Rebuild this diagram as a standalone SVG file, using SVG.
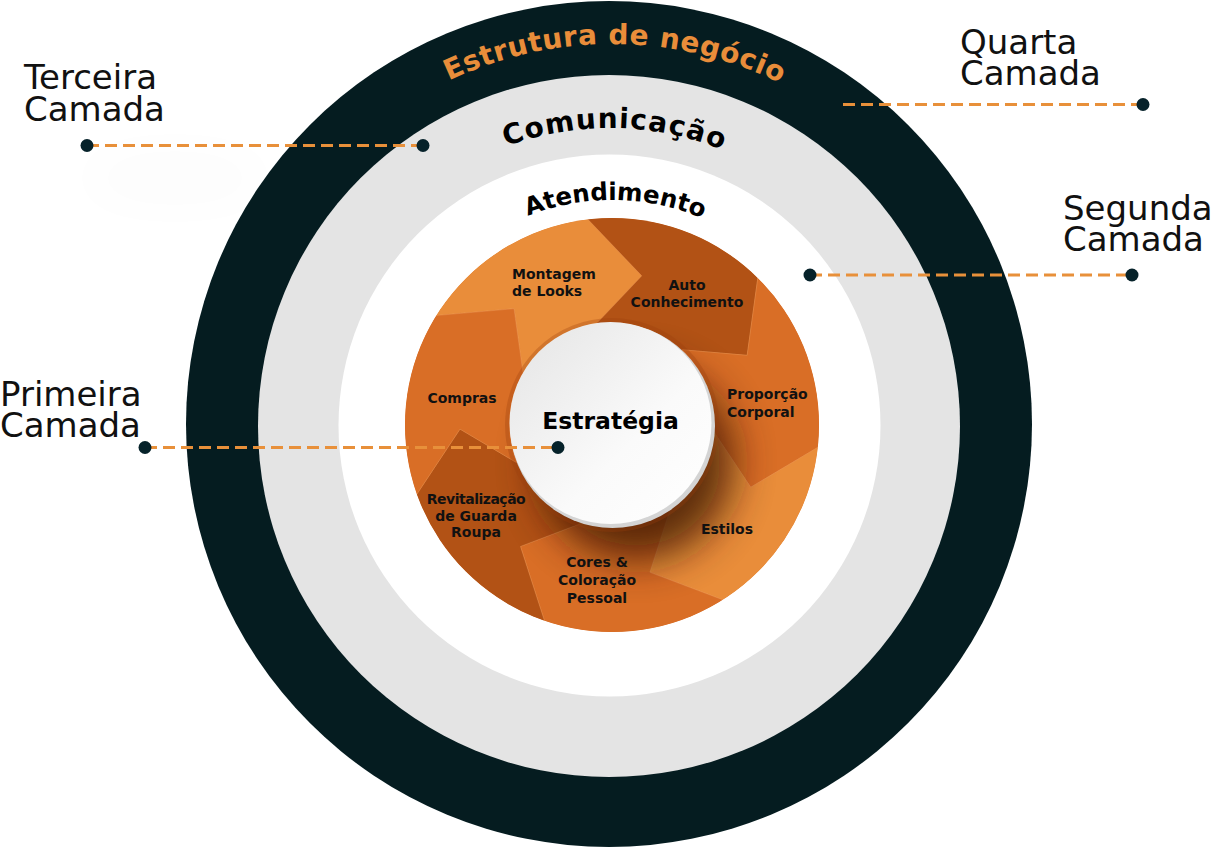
<svg xmlns="http://www.w3.org/2000/svg" width="1216" height="851" viewBox="0 0 1216 851">
<defs>
<style>
.lbl{font-family:"DejaVu Sans",sans-serif;font-size:34px;fill:#111;}
.seg{font-family:"DejaVu Sans",sans-serif;font-weight:bold;font-size:14px;fill:#111;}
.arc{font-family:"DejaVu Sans",sans-serif;font-weight:bold;}
.dash{stroke:#E8903A;stroke-width:3;stroke-dasharray:12 6;fill:none;}
.dot{fill:#06222a;}
.segfill{stroke:#f3a468;stroke-opacity:0.35;stroke-width:0.8;}
</style>
<clipPath id="ringClip"><circle cx="612" cy="425" r="207"/></clipPath>
<filter id="sh" x="-60%" y="-60%" width="220%" height="220%"><feGaussianBlur stdDeviation="20"/></filter>
<filter id="soft" x="-60%" y="-60%" width="220%" height="220%"><feGaussianBlur stdDeviation="25"/></filter>
<linearGradient id="face" x1="0" y1="0" x2="1" y2="1"><stop offset="0" stop-color="#e4e4e4"/><stop offset="0.6" stop-color="#fafafa"/><stop offset="1" stop-color="#ffffff"/></linearGradient>
<path id="segShape" d="M0 0 L-89 -51.8 L-98 -116.3 L-214.7 -106 L-160.7 -253.3 L-51 -234 L29.8 -149.1 L-15 -101.9 Z"/>
<path id="arc4" d="M282.05 234.5 A381 381 0 0 1 941.95 234.5"/>
<path id="arc3" d="M350.19 278 A300 300 0 0 1 869.81 278"/>
<path id="arc2" d="M412.81 315 A230 230 0 0 1 811.19 315"/>
</defs>

<ellipse cx="175" cy="178" rx="95" ry="28" fill="#000" opacity="0.012" filter="url(#soft)"/>

<g id="layer4">
<circle cx="609" cy="424" r="423" fill="#051c20"/>
<text class="arc" font-size="28" fill="#E98D3A" letter-spacing="0.6"><textPath href="#arc4" startOffset="402" text-anchor="middle">Estrutura de negócio</textPath></text>
</g>
<g id="layer3">
<circle cx="609" cy="426" r="351" fill="#e4e4e4"/>
<text class="arc" font-size="28" fill="#000" letter-spacing="1.2"><textPath href="#arc3" startOffset="319" text-anchor="middle">Comunicação</textPath></text>
</g>
<g id="layer2">
<circle cx="609.5" cy="425.5" r="271" fill="#ffffff"/>
<text class="arc" font-size="24.5" fill="#000"><textPath href="#arc2" startOffset="244" text-anchor="middle">Atendimento</textPath></text>
</g>

<g id="layer1" clip-path="url(#ringClip)">
<circle cx="612" cy="425" r="207" fill="#D96E26"/>
<g transform="translate(612 425)">
<use href="#segShape" class="segfill" fill="#E98D3A" transform="rotate(0)"/>
<use href="#segShape" class="segfill" fill="#B25215" transform="rotate(51.4286)"/>
<use href="#segShape" class="segfill" fill="#D96E26" transform="rotate(102.857)"/>
<use href="#segShape" class="segfill" fill="#E98D3A" transform="rotate(154.286)"/>
<use href="#segShape" class="segfill" fill="#D96E26" transform="rotate(205.714)"/>
<use href="#segShape" class="segfill" fill="#B25215" transform="rotate(257.143)"/>
<use href="#segShape" class="segfill" fill="#D96E26" transform="rotate(308.571)"/>
</g>
<circle cx="636" cy="462" r="98" fill="#3a1804" opacity="0.8" filter="url(#sh)"/>
<circle cx="612" cy="425" r="105" fill="none" stroke="#9c400c" stroke-opacity="0.3" stroke-width="4"/>
</g>

<g id="seg-montagem"><text class="seg" x="512" y="278.5">Montagem<tspan x="512" dy="17.5">de Looks</tspan></text></g>
<g id="seg-auto"><text class="seg" x="687" y="290" text-anchor="middle">Auto<tspan x="687" dy="17">Conhecimento</tspan></text></g>
<g id="seg-proporcao"><text class="seg" x="727" y="398.5">Proporção<tspan x="727" dy="18.5">Corporal</tspan></text></g>
<g id="seg-estilos"><text class="seg" x="727" y="534" text-anchor="middle">Estilos</text></g>
<g id="seg-cores"><text class="seg" x="597" y="567" text-anchor="middle">Cores &amp;<tspan x="597" dy="18">Coloração</tspan><tspan x="597" dy="18">Pessoal</tspan></text></g>
<g id="seg-revitalizacao"><text class="seg" x="476" y="504" text-anchor="middle" font-size="13"><tspan letter-spacing="-0.5">Revitalização</tspan><tspan x="476" dy="16.5">de Guarda</tspan><tspan x="476" dy="16.5">Roupa</tspan></text></g>
<g id="seg-compras"><text class="seg" x="462" y="402.5" text-anchor="middle">Compras</text></g>

<g id="center">
<circle cx="612.5" cy="425.5" r="102.5" fill="#d4d4d4"/>
<circle cx="610.5" cy="423" r="101" fill="url(#face)"/>
<text x="610.5" y="429" text-anchor="middle" font-family="DejaVu Sans, sans-serif" font-weight="bold" font-size="23.5" fill="#000">Estratégia</text>
</g>

<g id="labels">
<text class="lbl" x="24" y="89">Terceira<tspan x="24" dy="32">Camada</tspan></text>
<text class="lbl" x="960" y="54">Quarta<tspan x="960" dy="31">Camada</tspan></text>
<text class="lbl" x="1063" y="220">Segunda<tspan x="1063" dy="31">Camada</tspan></text>
<text class="lbl" x="0" y="406">Primeira<tspan x="0" dy="31">Camada</tspan></text>
</g>

<g id="connectors">
<line class="dash" x1="87" y1="145.5" x2="423" y2="145.5"/>
<circle class="dot" cx="87" cy="145.5" r="6.5"/><circle class="dot" cx="423" cy="145.5" r="6.5"/>
<line class="dash" x1="1143" y1="104.5" x2="841" y2="104.5"/>
<circle class="dot" cx="1143" cy="104.5" r="6.5"/>
<line class="dash" x1="810" y1="275" x2="1132" y2="275"/>
<circle class="dot" cx="810" cy="275" r="6.5"/><circle class="dot" cx="1132" cy="275" r="6.5"/>
<line class="dash" x1="145" y1="447.5" x2="558" y2="447.5"/>
<circle class="dot" cx="145" cy="447.5" r="6.5"/><circle class="dot" cx="558" cy="447.5" r="6.5"/>
</g>
</svg>
